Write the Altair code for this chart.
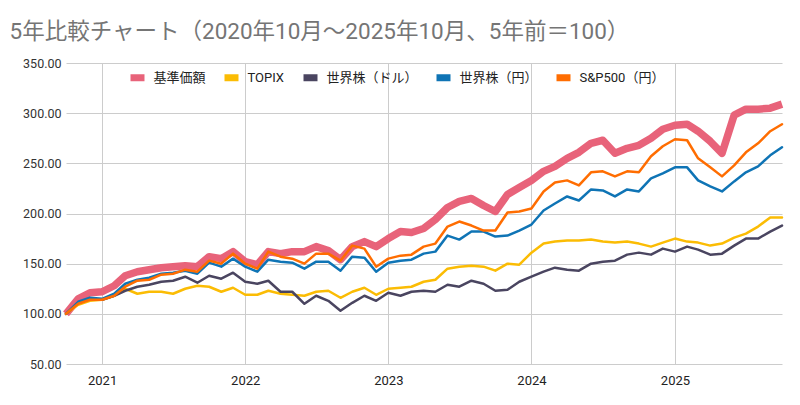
import altair as alt
import pandas as pd

months = pd.date_range("2020-10-01", "2025-10-01", freq="MS").strftime("%Y-%m-%d").tolist()

series_names = ["基準価額", "TOPIX", "世界株（ドル）", "世界株（円）", "S&P500（円）"]
series_colors = ["#E8637A", "#FBBC04", "#4A4560", "#0F74B5", "#FF6D01"]

kijun = [100, 115, 121, 122, 128, 138, 142, 144, 146, 147,
         148, 147, 157, 155, 162, 152, 149, 162, 160, 162,
         162, 167, 163, 154, 167, 172, 167, 175, 182, 181,
         185, 194, 206, 212, 215, 208, 202, 219, 226, 233,
         242, 247, 255, 261, 270, 273, 260, 265, 268, 275,
         284, 288, 289, 282, 272, 260, 298, 304, 304, 305, 309]

topix = [100, 109, 113, 114, 118, 125, 120, 122, 122, 120,
         125, 128, 127, 122, 126, 119, 119, 123, 120, 119,
         118, 122, 123, 116, 122, 126, 119, 125, 126, 127,
         132, 134, 145, 147, 148, 147, 143, 150, 149, 161,
         170, 172, 173, 173, 174, 172, 171, 172, 170, 167,
         171, 175, 172, 171, 168, 170, 176, 180, 187, 196, 196]

world_usd = [100, 111, 115, 114, 118, 123, 127, 129, 132, 133,
             137, 131, 138, 135, 141, 132, 130, 133, 122, 122,
             110, 118, 113, 103, 111, 118, 113, 121, 118, 122,
             123, 122, 129, 127, 133, 130, 123, 124, 132, 137,
             142, 146, 144, 143, 150, 152, 153, 159, 161, 159,
             165, 162, 167, 164, 159, 160, 168, 175, 175, 182, 188]

world_jpy = [100, 112, 116, 115, 120, 130, 134, 136, 140, 141,
             143, 140, 151, 147, 155, 147, 142, 154, 152, 151,
             145, 152, 152, 143, 157, 156, 142, 151, 153, 154,
             160, 162, 178, 174, 182, 182, 177, 178, 183, 189,
             203, 210, 217, 213, 224, 223, 217, 224, 222, 235,
             240, 246, 246, 233, 227, 222, 232, 241, 247, 258, 266]

sp500_jpy = [100, 110, 114, 114, 118, 127, 133, 134, 139, 140,
             144, 142, 153, 150, 160, 150, 145, 162, 157, 155,
             150, 160, 160, 153, 168, 165, 147, 155, 158, 159,
             167, 170, 187, 192, 188, 183, 183, 201, 202, 205,
             222, 231, 233, 228, 241, 242, 237, 242, 241, 257,
             267, 274, 273, 255, 246, 237, 248, 261, 270, 282, 289]

y_ticks = [50, 100, 150, 200, 250, 300, 350]
x_tick_years = [2021, 2022, 2023, 2024, 2025]

rows = []
for name, vals in zip(series_names, [kijun, topix, world_usd, world_jpy, sp500_jpy]):
    for m, v in zip(months, vals):
        rows.append({"month": m, "series": name, "value": v})
df = pd.DataFrame(rows)

FONT = "Roboto, 'Noto Sans CJK JP', sans-serif"

x_enc = alt.X(
    "month:T",
    scale=alt.Scale(type="utc", nice=False),
    axis=alt.Axis(
        title=None,
        values=[alt.DateTime(year=y, month=1, date=1, utc=True) for y in x_tick_years],
        format="%Y/%m",
        formatType="utc",
        ticks=False,
        domain=False,
        grid=True,
        gridColor="#cccccc",
        labelFont=FONT,
        labelFontSize=13,
        labelColor="#222222",
        labelPadding=10,
    ),
)
y_enc = alt.Y(
    "value:Q",
    scale=alt.Scale(domain=[50, 350], nice=False, zero=False),
    axis=alt.Axis(
        title=None,
        values=y_ticks,
        format=".2f",
        ticks=False,
        domain=False,
        grid=True,
        gridColor="#cccccc",
        labelFont=FONT,
        labelFontSize=12.5,
        labelColor="#333333",
        labelPadding=5,
    ),
)
color_enc = alt.Color(
    "series:N",
    scale=alt.Scale(domain=series_names, range=series_colors),
    sort=series_names,
    legend=alt.Legend(
        title=None,
        orient="none",
        legendX=61,
        legendY=4,
        direction="horizontal",
        symbolType="stroke",
        symbolSize=196,
        symbolStrokeWidth=7,
        labelFont=FONT,
        labelFontSize=13,
        labelColor="#222222",
        labelOffset=5.5,
        columnPadding=4,
    ),
)

base = alt.Chart(df).encode(x=x_enc, y=y_enc, color=color_enc, order=alt.Order("month:T"))

main_line = base.transform_filter(
    alt.datum.series == series_names[0]
).mark_line(strokeWidth=7.5, strokeJoin="round", strokeCap="butt")

other_lines = base.transform_filter(
    alt.datum.series != series_names[0]
).mark_line(strokeWidth=2.5, strokeJoin="round", strokeCap="round")

chart = alt.layer(main_line, other_lines).properties(
    width=716,
    height=301,
    title=alt.TitleParams(
        text="5年比較チャート（2020年10月～2025年10月、5年前＝100）",
        anchor="start",
        font=FONT,
        fontSize=22.5,
        fontWeight="normal",
        color="#757575",
        dx=-13,
        offset=14,
    ),
    autosize=alt.AutoSizeParams(type="none"),
    padding={"left": 58, "top": 55, "right": 10, "bottom": 33},
).configure_view(stroke=None)

chart.save("out.html", embed_options={"renderer": "svg", "actions": False})
